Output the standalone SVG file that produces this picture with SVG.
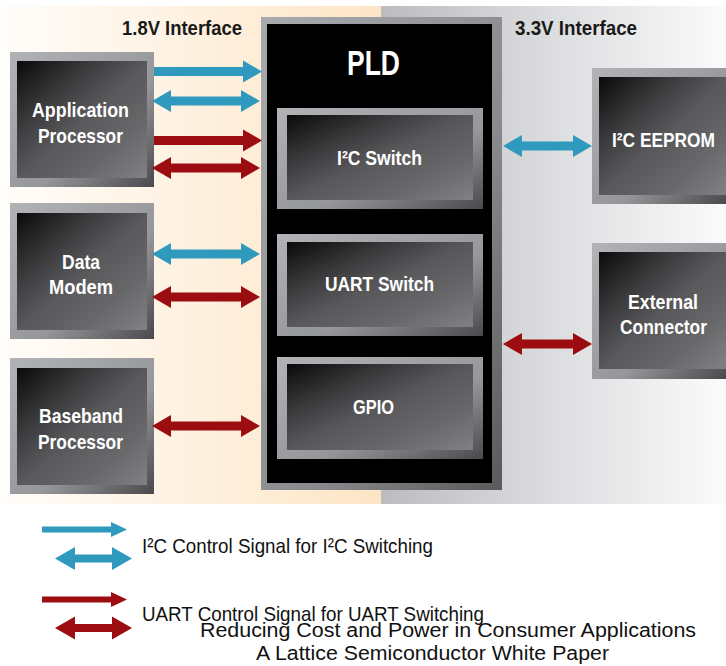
<svg xmlns="http://www.w3.org/2000/svg" width="726" height="666" viewBox="0 0 726 666">
<defs>
<linearGradient id="bgL" x1="0" y1="0" x2="1" y2="0"><stop offset="0" stop-color="#fffdfa"/><stop offset="1" stop-color="#fde5c6"/></linearGradient>
<linearGradient id="bgR" x1="0" y1="0" x2="1" y2="0"><stop offset="0" stop-color="#bcbcbf"/><stop offset="0.5" stop-color="#dcdddf"/><stop offset="1" stop-color="#fbfbfb"/></linearGradient>
<linearGradient id="frame" x1="0" y1="0" x2="1" y2="1"><stop offset="0" stop-color="#b2b3b6"/><stop offset="0.6" stop-color="#96979a"/><stop offset="1" stop-color="#4a4a4c"/></linearGradient>
<linearGradient id="face" x1="0" y1="0" x2="1" y2="1"><stop offset="0" stop-color="#0a0a0a"/><stop offset="0.3" stop-color="#3c3c3e"/><stop offset="0.5" stop-color="#58585a"/><stop offset="0.75" stop-color="#68686b"/><stop offset="1" stop-color="#808184"/></linearGradient>
<linearGradient id="pldFrame" x1="0" y1="0" x2="1" y2="1"><stop offset="0" stop-color="#a9aaad"/><stop offset="0.6" stop-color="#8a8b8e"/><stop offset="1" stop-color="#5a5a5c"/></linearGradient>
</defs>
<style>
.frame{fill:url(#frame)}
.face{fill:url(#face)}
.lbl{font-family:"Liberation Sans",Arial,sans-serif;font-weight:bold;font-size:21px;fill:#ffffff;text-anchor:middle}
.big{font-size:35px}
.hdr{font-family:"Liberation Sans",Arial,sans-serif;font-weight:bold;font-size:20.5px;fill:#1a1a1a}
.leg{font-family:"Liberation Sans",Arial,sans-serif;font-size:21px;fill:#111111}
.foot{font-family:"Liberation Sans",Arial,sans-serif;font-size:20px;fill:#111111}
.blue{fill:#2f9abd}
.red{fill:#9b0d10}
</style>
<g id="background">
<rect x="0" y="6" width="381" height="498" fill="url(#bgL)"/>
<rect x="381" y="6" width="345" height="498" fill="url(#bgR)"/>
<text class="hdr" x="122" y="35" textLength="120" lengthAdjust="spacingAndGlyphs">1.8V Interface</text>
<text class="hdr" x="515" y="35" textLength="122" lengthAdjust="spacingAndGlyphs">3.3V Interface</text>
</g>
<g id="pld">
<rect x="261" y="17" width="241" height="473" fill="url(#pldFrame)"/>
<rect x="267" y="24" width="225" height="459" fill="#000000"/>
<text class="lbl big" x="373.5" y="75" textLength="53" lengthAdjust="spacingAndGlyphs">PLD</text>
</g>
<g id="i2c-switch">
<rect class="frame" x="277" y="108" width="206" height="101"/>
<rect class="face" x="287" y="115" width="186" height="85"/>
<text class="lbl" x="379.5" y="165" textLength="85" lengthAdjust="spacingAndGlyphs">I²C Switch</text>
</g>
<g id="uart-switch">
<rect class="frame" x="277" y="234" width="206" height="102"/>
<rect class="face" x="287" y="242" width="186" height="85"/>
<text class="lbl" x="379.5" y="291" textLength="109" lengthAdjust="spacingAndGlyphs">UART Switch</text>
</g>
<g id="gpio">
<rect class="frame" x="277" y="357" width="206" height="102"/>
<rect class="face" x="287" y="364" width="186" height="86"/>
<text class="lbl" x="373.5" y="414" textLength="41" lengthAdjust="spacingAndGlyphs">GPIO</text>
</g>
<g id="application-processor">
<rect class="frame" x="10" y="52" width="144" height="135"/>
<rect class="face" x="17" y="61" width="130" height="117"/>
<text class="lbl" x="80.5" y="117" textLength="97" lengthAdjust="spacingAndGlyphs">Application</text>
<text class="lbl" x="80.5" y="143" textLength="85" lengthAdjust="spacingAndGlyphs">Processor</text>
</g>
<g id="data-modem">
<rect class="frame" x="10" y="203" width="144" height="136"/>
<rect class="face" x="17" y="213" width="130" height="117"/>
<text class="lbl" x="81" y="269" textLength="38" lengthAdjust="spacingAndGlyphs">Data</text>
<text class="lbl" x="81" y="294" textLength="64" lengthAdjust="spacingAndGlyphs">Modem</text>
</g>
<g id="baseband-processor">
<rect class="frame" x="10" y="358" width="144" height="136"/>
<rect class="face" x="17" y="368" width="130" height="117"/>
<text class="lbl" x="81" y="423" textLength="84" lengthAdjust="spacingAndGlyphs">Baseband</text>
<text class="lbl" x="80.5" y="449" textLength="85" lengthAdjust="spacingAndGlyphs">Processor</text>
</g>
<g id="i2c-eeprom">
<rect class="frame" x="592" y="68" width="134" height="136"/>
<rect class="face" x="599" y="77" width="127" height="118"/>
<text class="lbl" x="663.5" y="147" textLength="103" lengthAdjust="spacingAndGlyphs">I²C EEPROM</text>
</g>
<g id="external-connector">
<rect class="frame" x="592" y="243" width="134" height="136"/>
<rect class="face" x="599" y="252" width="127" height="117"/>
<text class="lbl" x="663" y="309" textLength="70" lengthAdjust="spacingAndGlyphs">External</text>
<text class="lbl" x="663.5" y="334" textLength="87" lengthAdjust="spacingAndGlyphs">Connector</text>
</g>
<g id="connectors">
<path class="blue" d="M154,67 H243 V60.5 L262,71.5 L243,82.5 V76 H154 Z"/>
<path class="blue" d="M152,101 L171,90 V96.5 H241 V90 L260,101 L241,112 V105.5 H171 V112 Z"/>
<path class="red" d="M154,136 H243 V129.5 L262,140.5 L243,151.5 V145 H154 Z"/>
<path class="red" d="M152,168 L171,157 V163.5 H241 V157 L260,168 L241,179 V172.5 H171 V179 Z"/>
<path class="blue" d="M152,254 L171,243 V249.5 H241 V243 L260,254 L241,265 V258.5 H171 V265 Z"/>
<path class="red" d="M152,297 L171,286 V292.5 H241 V286 L260,297 L241,308 V301.5 H171 V308 Z"/>
<path class="red" d="M152,426 L171,415 V421.5 H241 V415 L260,426 L241,437 V430.5 H171 V437 Z"/>
<path class="blue" d="M503,146 L522,135 V141.5 H573 V135 L592,146 L573,157 V150.5 H522 V157 Z"/>
<path class="red" d="M503,344 L522,333 V339.5 H573 V333 L592,344 L573,355 V348.5 H522 V355 Z"/>
</g>
<g id="legend">
<path class="blue" d="M42,526.5 H111 V522 L127,529.5 L111,537 V532.5 H42 Z"/>
<path class="blue" d="M55,558.5 L75,547 V554.5 H112 V547 L132,558.5 L112,570 V562.5 H75 V570 Z"/>
<path class="red" d="M42,596.5 H111 V592 L127,599.5 L111,607 V602.5 H42 Z"/>
<path class="red" d="M55,628 L75,616.5 V624 H112 V616.5 L132,628 L112,639.5 V632 H75 V639.5 Z"/>
<text class="leg" x="142" y="553" textLength="291" lengthAdjust="spacingAndGlyphs">I²C Control Signal for I²C Switching</text>
<text class="leg" x="142" y="621" textLength="342" lengthAdjust="spacingAndGlyphs">UART Control Signal for UART Switching</text>
</g>
<g id="footer">
<text class="foot" x="200" y="637" textLength="496" lengthAdjust="spacingAndGlyphs">Reducing Cost and Power in Consumer Applications</text>
<text class="foot" x="256" y="660" textLength="353" lengthAdjust="spacingAndGlyphs">A Lattice Semiconductor White Paper</text>
</g>
</svg>
